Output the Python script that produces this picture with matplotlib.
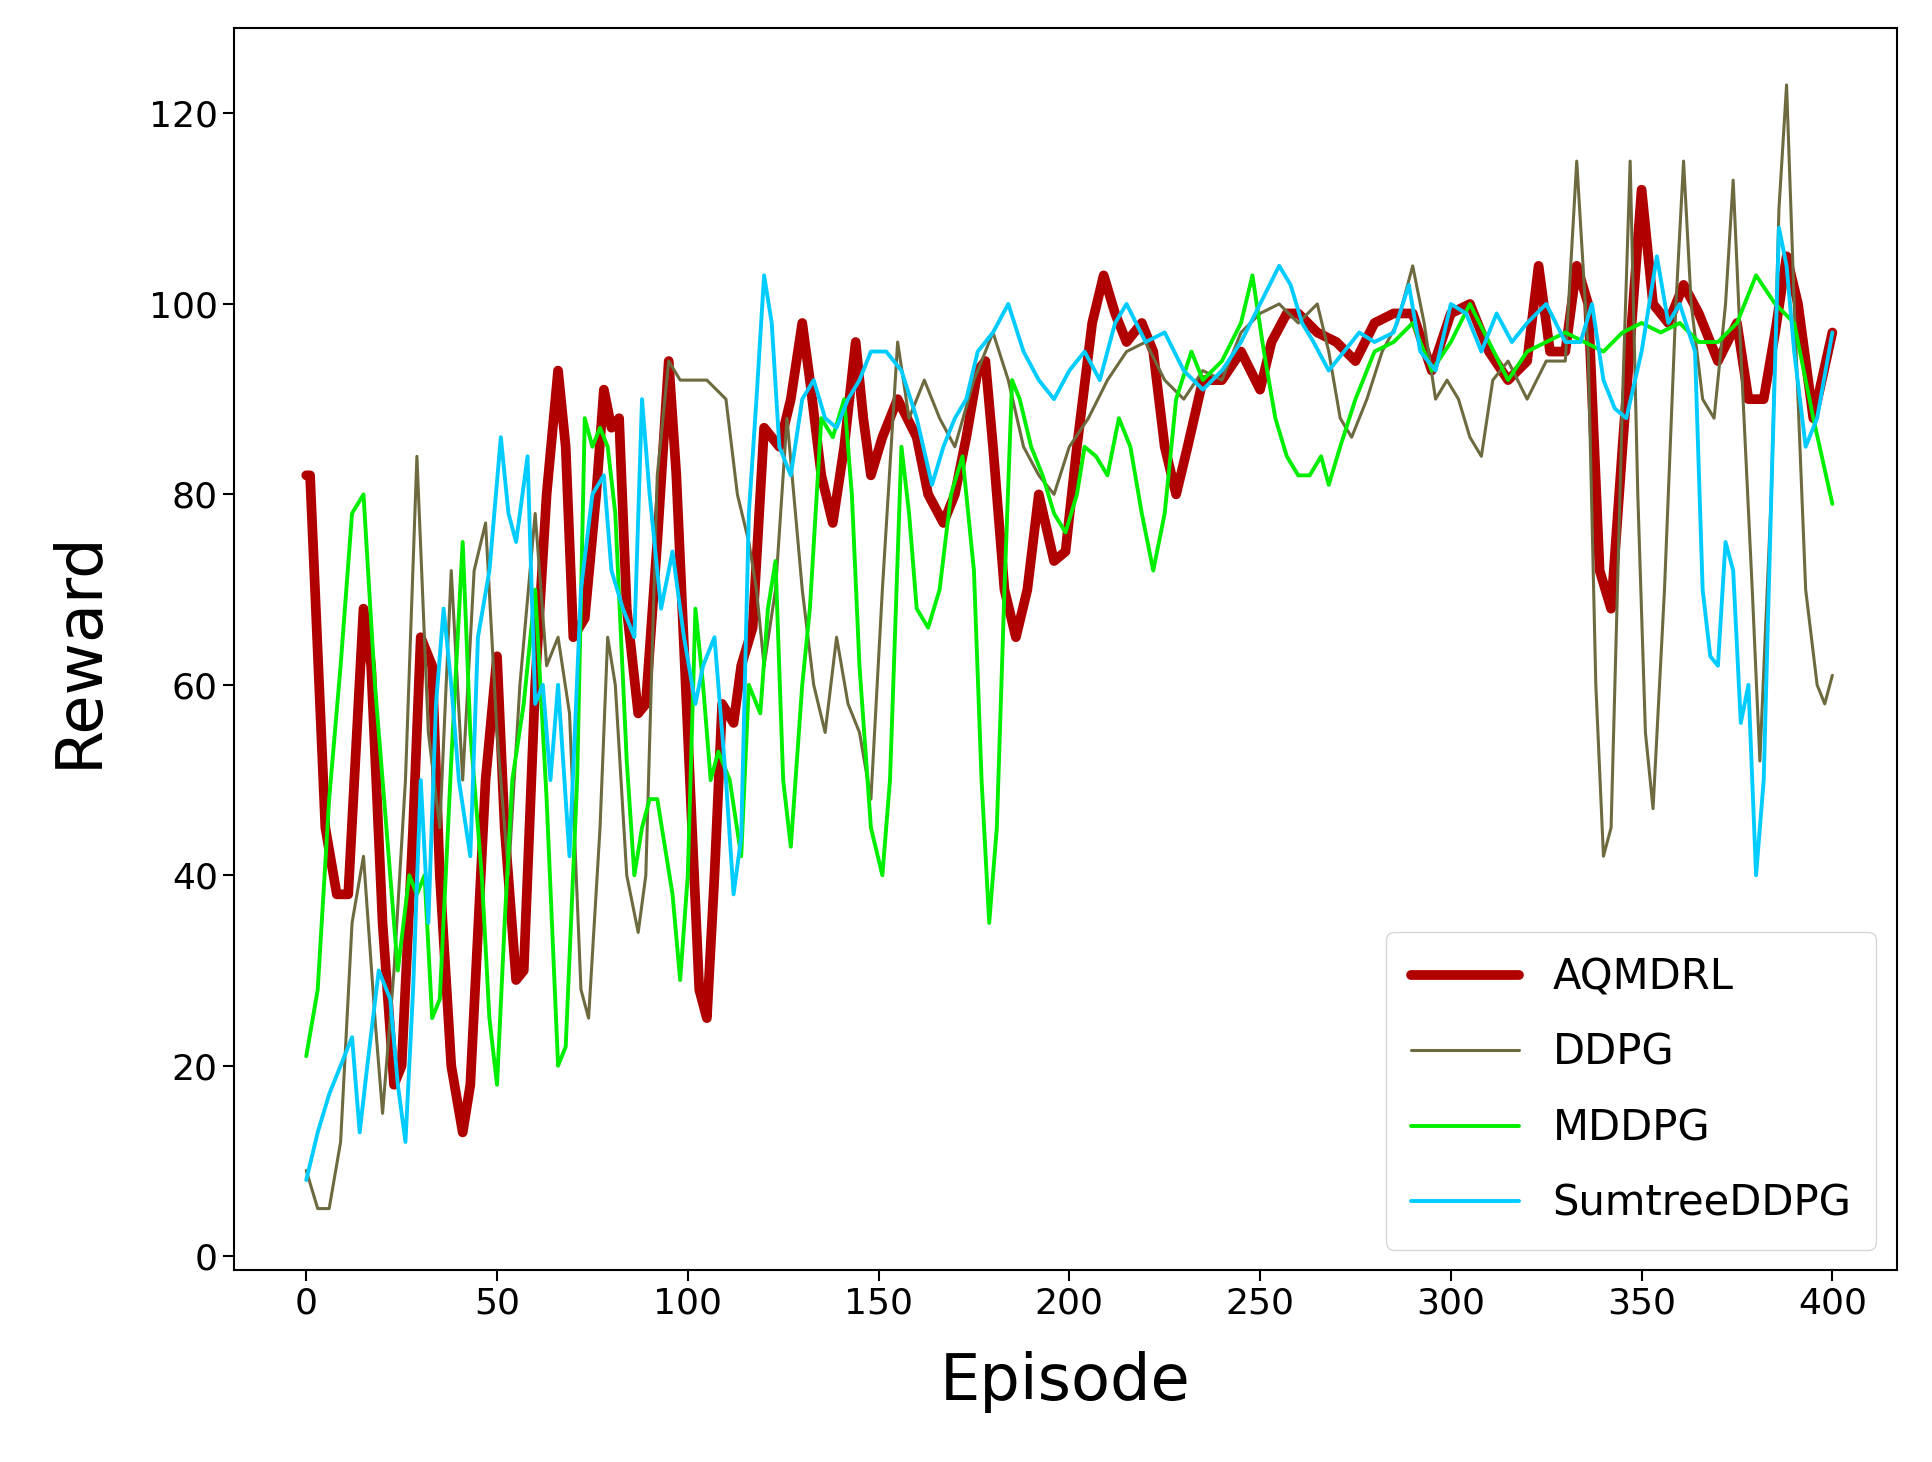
"""
    Reward per episode for the four agents
"""
import matplotlib.pyplot as plt
import numpy as np

aqm_x = [0, 1, 5, 8, 11, 15, 17, 20, 23, 25, 28, 30, 33, 35, 38, 41, 43, 47, 50, 52, 55, 57, 60, 63, 66, 68, 70, 73, 76, 78, 80, 82, 84, 87, 89, 92, 95, 97, 100, 103, 105, 107, 109, 112, 114, 117, 120, 124, 127, 130, 132, 135, 138, 141, 144, 146, 148, 151, 155, 160, 163, 167, 170, 173, 176, 178, 180, 183, 186, 189, 192, 196, 199, 202, 206, 209, 212, 215, 219, 222, 225, 228, 231, 235, 240, 245, 250, 253, 257, 260, 265, 270, 275, 280, 285, 290, 295, 300, 305, 310, 315, 320, 323, 326, 330, 333, 336, 339, 342, 345, 350, 353, 357, 361, 365, 370, 375, 378, 382, 385, 388, 391, 395, 400]
aqm_y = [82, 82, 45, 38, 38, 68, 62, 35, 18, 20, 45, 65, 62, 40, 20, 13, 18, 50, 63, 45, 29, 30, 60, 80, 93, 85, 65, 67, 80, 91, 87, 88, 68, 57, 58, 75, 94, 82, 55, 28, 25, 40, 58, 56, 62, 66, 87, 85, 90, 98, 92, 82, 77, 85, 96, 88, 82, 86, 90, 86, 80, 77, 80, 86, 93, 94, 85, 70, 65, 70, 80, 73, 74, 85, 98, 103, 99, 96, 98, 95, 85, 80, 85, 92, 92, 95, 91, 96, 99, 99, 97, 96, 94, 98, 99, 99, 93, 99, 100, 95, 92, 94, 104, 95, 95, 104, 100, 72, 68, 85, 112, 100, 98, 102, 99, 94, 98, 90, 90, 97, 105, 100, 88, 97]

ddpg_x = [0, 3, 6, 9, 12, 15, 18, 20, 23, 26, 29, 32, 35, 38, 41, 44, 47, 50, 53, 56, 60, 63, 66, 69, 72, 74, 77, 79, 81, 84, 87, 89, 92, 95, 98, 105, 110, 113, 116, 118, 120, 123, 126, 130, 133, 136, 139, 142, 145, 148, 151, 155, 158, 162, 166, 170, 175, 180, 184, 188, 192, 196, 200, 205, 210, 215, 220, 225, 230, 235, 240, 245, 250, 255, 260, 265, 268, 271, 274, 278, 282, 286, 290, 293, 296, 299, 302, 305, 308, 311, 315, 320, 325, 330, 333, 336, 338, 340, 342, 345, 347, 349, 351, 353, 356, 359, 361, 363, 366, 369, 372, 374, 376, 379, 381, 384, 386, 388, 390, 393, 396, 398, 400]
ddpg_y = [9, 5, 5, 12, 35, 42, 25, 15, 30, 50, 84, 55, 45, 72, 50, 72, 77, 55, 40, 60, 78, 62, 65, 57, 28, 25, 45, 65, 60, 40, 34, 40, 82, 94, 92, 92, 90, 80, 75, 70, 62, 70, 88, 70, 60, 55, 65, 58, 55, 48, 70, 96, 88, 92, 88, 85, 92, 97, 92, 85, 82, 80, 85, 88, 92, 95, 96, 92, 90, 93, 92, 97, 99, 100, 98, 100, 95, 88, 86, 90, 95, 98, 104, 98, 90, 92, 90, 86, 84, 92, 94, 90, 94, 94, 115, 95, 60, 42, 45, 90, 115, 80, 55, 47, 70, 100, 115, 100, 90, 88, 100, 113, 95, 70, 52, 80, 110, 123, 100, 70, 60, 58, 61]

mddpg_x = [0, 3, 6, 9, 12, 15, 18, 21, 24, 27, 29, 31, 33, 35, 38, 41, 43, 46, 48, 50, 52, 54, 57, 60, 63, 66, 68, 71, 73, 75, 77, 79, 81, 84, 86, 88, 90, 92, 94, 96, 98, 100, 102, 104, 106, 108, 111, 114, 116, 119, 121, 123, 125, 127, 130, 132, 135, 138, 141, 143, 145, 148, 151, 153, 156, 158, 160, 163, 166, 169, 172, 175, 177, 179, 181, 183, 185, 187, 190, 193, 196, 199, 202, 204, 207, 210, 213, 216, 219, 222, 225, 228, 232, 235, 240, 245, 248, 251, 254, 257, 260, 263, 266, 268, 271, 275, 280, 285, 290, 295, 300, 305, 310, 315, 320, 325, 330, 335, 340, 345, 350, 355, 360, 365, 370, 375, 380, 385, 390, 395, 400]
mddpg_y = [21, 28, 48, 62, 78, 80, 60, 45, 30, 40, 38, 40, 25, 27, 52, 75, 55, 40, 25, 18, 35, 50, 58, 70, 48, 20, 22, 50, 88, 85, 87, 85, 78, 52, 40, 45, 48, 48, 43, 38, 29, 40, 68, 60, 50, 53, 50, 42, 60, 57, 68, 73, 50, 43, 60, 68, 88, 86, 90, 80, 62, 45, 40, 50, 85, 78, 68, 66, 70, 80, 84, 72, 50, 35, 45, 70, 92, 90, 85, 82, 78, 76, 80, 85, 84, 82, 88, 85, 78, 72, 78, 90, 95, 92, 94, 98, 103, 95, 88, 84, 82, 82, 84, 81, 85, 90, 95, 96, 98, 93, 96, 100, 96, 92, 95, 96, 97, 96, 95, 97, 98, 97, 98, 96, 96, 98, 103, 100, 98, 88, 79]

sum_x = [0, 3, 6, 9, 12, 14, 16, 19, 22, 24, 26, 28, 30, 32, 34, 36, 38, 40, 43, 45, 48, 51, 53, 55, 58, 60, 62, 64, 66, 69, 72, 75, 78, 80, 83, 86, 88, 90, 93, 96, 99, 102, 104, 107, 110, 112, 114, 116, 118, 120, 122, 124, 127, 130, 133, 136, 139, 142, 145, 148, 152, 156, 160, 164, 167, 170, 173, 176, 180, 184, 188, 192, 196, 200, 204, 208, 212, 215, 220, 225, 230, 235, 240, 245, 250, 255, 258, 261, 264, 268, 272, 276, 280, 285, 289, 292, 296, 300, 304, 308, 312, 316, 320, 325, 330, 334, 337, 340, 343, 346, 350, 354, 357, 360, 364, 366, 368, 370, 372, 374, 376, 378, 380, 382, 384, 386, 388, 390, 393, 396, 400]
sum_y = [8, 13, 17, 20, 23, 13, 20, 30, 27, 18, 12, 28, 50, 35, 58, 68, 60, 50, 42, 65, 72, 86, 78, 75, 84, 58, 60, 50, 60, 42, 70, 80, 82, 72, 68, 65, 90, 80, 68, 74, 65, 58, 62, 65, 50, 38, 44, 78, 90, 103, 98, 85, 82, 90, 92, 88, 87, 90, 92, 95, 95, 93, 88, 81, 85, 88, 90, 95, 97, 100, 95, 92, 90, 93, 95, 92, 98, 100, 96, 97, 93, 91, 93, 96, 100, 104, 102, 98, 96, 93, 95, 97, 96, 97, 102, 95, 93, 100, 99, 95, 99, 96, 98, 100, 96, 96, 100, 92, 89, 88, 95, 105, 98, 100, 95, 70, 63, 62, 75, 72, 56, 60, 40, 50, 80, 108, 104, 95, 85, 88, 97]


def plot():
    fig = plt.figure(figsize=(19.32, 14.62), dpi=100)
    ax = fig.add_axes([0.121, 0.131, 0.861, 0.85])
    kw = dict(solid_joinstyle='round', solid_capstyle='round')
    ax.plot(aqm_x, aqm_y, color='#b00000', lw=7, label='AQMDRL', **kw)
    ax.plot(ddpg_x, ddpg_y, color='#6e6a40', lw=2.2, label='DDPG', **kw)
    ax.plot(mddpg_x, mddpg_y, color='#00ee00', lw=2.8, label='MDDPG', **kw)
    ax.plot(sum_x, sum_y, color='#00ccff', lw=2.8, label='SumtreeDDPG', **kw)

    ax.set_xlim(-19, 417)
    ax.set_ylim(-1.5, 129)
    ax.set_xticks(np.arange(0, 401, 50))
    ax.set_yticks(np.arange(0, 121, 20))
    ax.tick_params(labelsize=26, length=8, width=1.5)
    for s in ax.spines.values():
        s.set_linewidth(1.5)
    ax.set_xlabel('Episode', fontsize=46, labelpad=22)
    ax.set_ylabel('Reward', fontsize=46, labelpad=28)
    ax.legend(loc='lower right', fontsize=30, handlelength=2.6, borderpad=0.6,
              labelspacing=0.8)
    fig.savefig('out.png')
    plt.close(fig)


if __name__ == '__main__':
    plot()
